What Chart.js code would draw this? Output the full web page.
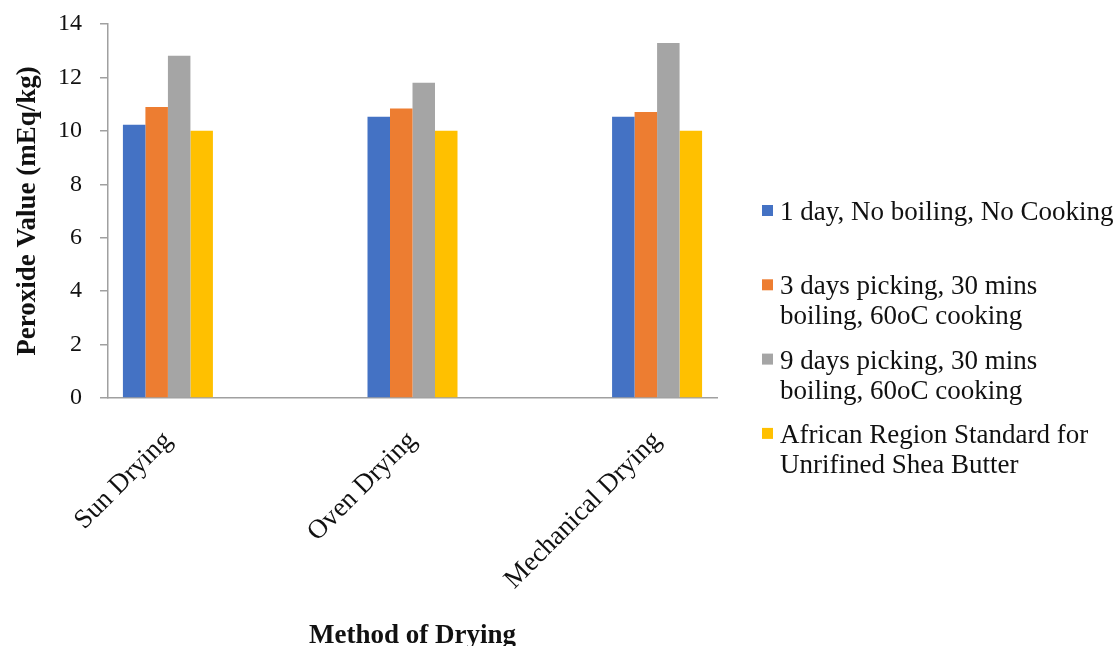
<!DOCTYPE html>
<html>
<head>
<meta charset="utf-8">
<script src="https://cdn.jsdelivr.net/npm/chart.js@4.4.1/dist/chart.umd.min.js"></script>
<style>
  html, body { margin: 0; padding: 0; background: #fff; overflow: hidden; }
  #wrap { width: 1120px; height: 660px; position: relative; }
</style>
</head>
<body>
<div id="wrap"><canvas id="c" width="1120" height="660"></canvas></div>
<script>
// Drying methods along the x axis
const categories = ['Sun Drying', 'Oven Drying', 'Mechanical Drying'];

// Legend entries, already broken into the lines they are shown on
const seriesLabels = [
  ['1 day, No boiling, No Cooking'],
  ['3 days picking, 30 mins', 'boiling, 60oC cooking'],
  ['9 days picking, 30 mins', 'boiling, 60oC cooking'],
  ['African Region Standard for', 'Unrifined Shea Butter']
];

// Peroxide value (mEq/kg) per drying method
const oneDayNoBoil = [10.23, 10.53, 10.53];
const threeDaysPicking = [10.89, 10.84, 10.71];
const nineDaysPicking = [12.81, 11.80, 13.29];
const africanStandard = [10, 10, 10];

const yTicks = [0, 2, 4, 6, 8, 10, 12, 14];
const seriesColors = ['#4472C4', '#ED7D31', '#A5A5A5', '#FFC000'];

const SERIF = '"Liberation Serif", "Times New Roman", serif';
const AXIS_GREY = '#a0a0a0';
const CANVAS_H = 660;

const seriesValues = [oneDayNoBoil, threeDaysPicking, nineDaysPicking, africanStandard];
const datasets = seriesValues.map((vals, s) => ({
  label: seriesLabels[s].join(' '),
  data: vals.map((v, i) => ({ x: i, y: v })),
  backgroundColor: seriesColors[s],
  borderWidth: 0,
  barPercentage: 1,
  categoryPercentage: 0.368
}));

// Legend drawn to the right of the plot, one fixed slot per series
const sideLegend = {
  id: 'sideLegend',
  afterDraw(chart) {
    const ctx = chart.ctx;
    const boxX = 762, textX = 780, firstY = 213, slot = 74.3, lineGap = 30, box = 11;
    ctx.save();
    ctx.font = '27px ' + SERIF;
    ctx.textBaseline = 'middle';
    ctx.textAlign = 'left';
    chart.data.datasets.forEach((ds, s) => {
      const y = firstY + s * slot;
      ctx.fillStyle = ds.backgroundColor;
      ctx.fillRect(boxX, y - 8, box, box);
      ctx.fillStyle = '#111';
      seriesLabels[s].forEach((line, k) => ctx.fillText(line, textX, y + k * lineGap));
    });
    ctx.restore();
  }
};

new Chart(document.getElementById('c'), {
  type: 'bar',
  data: { datasets },
  plugins: [sideLegend],
  options: {
    responsive: false,
    animation: false,
    layout: { padding: { left: 0, top: 24, right: 403, bottom: 0 } },
    plugins: { legend: { display: false }, tooltip: { enabled: false } },
    scales: {
      x: {
        type: 'linear',
        min: -0.245,
        max: 2.245,
        offset: false,
        afterBuildTicks: (scale) => { scale.ticks = categories.map((_, i) => ({ value: i })); },
        afterFit: (scale) => { scale.height = CANVAS_H - 398; },
        ticks: {
          autoSkip: false,
          minRotation: 45,
          maxRotation: 45,
          padding: 27,
          color: '#111',
          font: { family: SERIF, size: 27 },
          callback: (v) => categories[v]
        },
        grid: { display: false, drawTicks: false, offset: false },
        border: { display: true, color: AXIS_GREY, width: 1.5 },
        title: {
          display: true,
          text: 'Method of Drying',
          color: '#111',
          font: { family: SERIF, size: 27, weight: 'bold' },
          padding: { top: 0, bottom: 8 }
        }
      },
      y: {
        min: 0,
        max: 14,
        afterBuildTicks: (scale) => { scale.ticks = yTicks.map(v => ({ value: v })); },
        afterFit: (scale) => {
          scale.width = 108;
          // keep the plot top at the layout padding instead of reserving room for the top label
          scale.paddingTop = 0;
          scale.paddingBottom = 0;
        },
        ticks: {
          padding: 18,
          color: '#111',
          font: { family: SERIF, size: 24 }
        },
        grid: { drawOnChartArea: false, drawTicks: true, tickLength: 8, color: AXIS_GREY, lineWidth: 1.5 },
        border: { display: true, color: AXIS_GREY, width: 1.5 },
        title: {
          display: true,
          text: 'Peroxide Value (mEq/kg)',
          color: '#111',
          font: { family: SERIF, size: 27, weight: 'bold' },
          padding: { top: 12, bottom: 0 }
        }
      }
    }
  }
});
</script>
</body>
</html>
